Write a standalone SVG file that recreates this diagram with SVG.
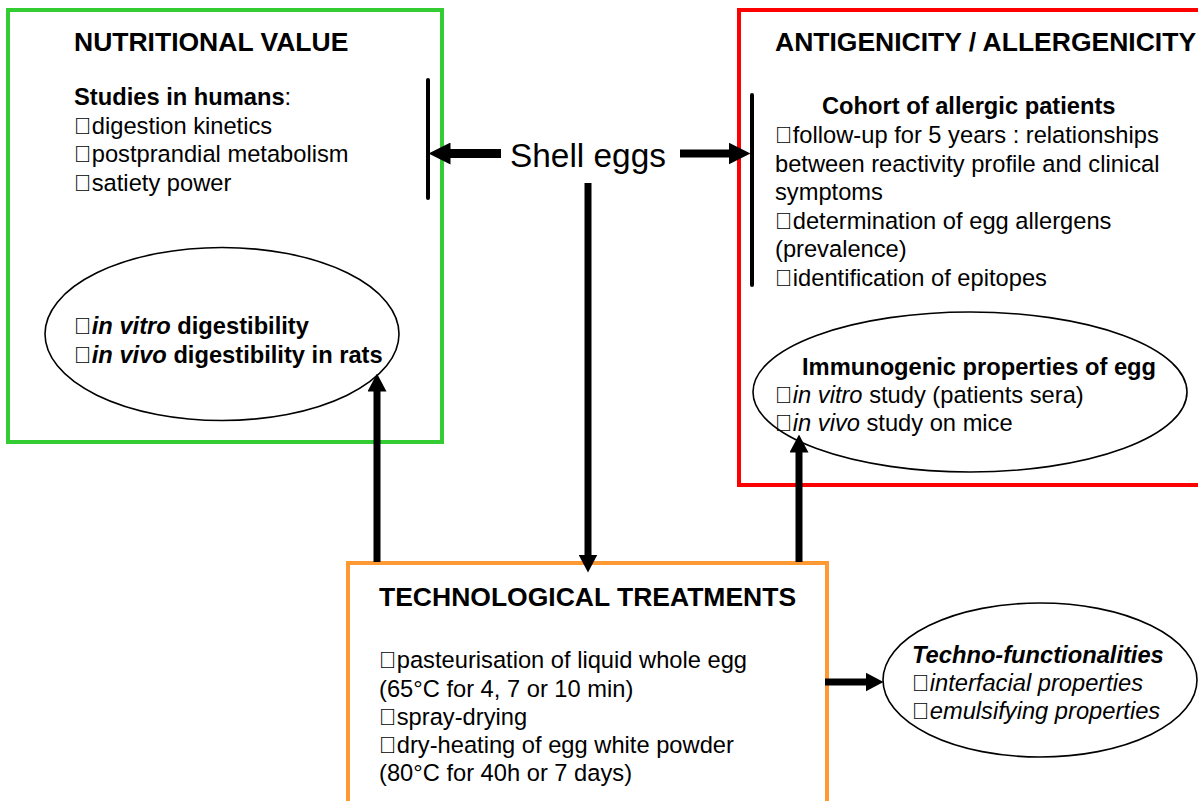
<svg xmlns="http://www.w3.org/2000/svg" width="1198" height="801" viewBox="0 0 1198 801">
<style>
text{font-family:"Liberation Sans",Arial,sans-serif;fill:#000}
.h{font-size:26.5px;font-weight:bold}
.t{font-size:23.7px}
.b{font-weight:bold}
.i{font-style:italic}
.n{font-style:normal}
.box{fill:none;stroke-width:4}
.ell{fill:#fff;stroke:#000;stroke-width:1.6}
.conn{stroke:#000;fill:none}
.bar{stroke:#000;stroke-width:4;stroke-linecap:round}
</style>
<defs>
<marker id="hl" markerUnits="userSpaceOnUse" markerWidth="22" markerHeight="22" viewBox="0 0 22 22" refX="0.5" refY="11" orient="auto"><path d="M0,0 L22,11 L0,22 z" fill="#000"/></marker>
<marker id="hs" markerUnits="userSpaceOnUse" markerWidth="18" markerHeight="19" viewBox="0 0 18 19" refX="0.5" refY="9.5" orient="auto"><path d="M0,0 L18,9.5 L0,19 z" fill="#000"/></marker>
</defs>
<rect width="1198" height="801" fill="#fff"/>

<g id="nutritional">
<rect class="box" x="8" y="10" width="434" height="432" stroke="#33cc33"/>
<text class="h" x="74" y="51">NUTRITIONAL VALUE</text>
<text class="t" x="74" y="104.5"><tspan class="b">Studies in humans</tspan>:</text>
<text class="t" x="74" y="133.5">&#xF0A7;digestion kinetics</text>
<text class="t" x="74" y="161.5">&#xF0A7;postprandial metabolism</text>
<text class="t" x="74" y="190.5">&#xF0A7;satiety power</text>
</g>
<g id="digestibility">
<ellipse class="ell" cx="222" cy="334" rx="177" ry="86.5"/>
<text class="t b" x="74" y="334">&#xF0A7;<tspan class="i">in vitro</tspan> digestibility</text>
<text class="t b" x="74" y="363">&#xF0A7;<tspan class="i">in vivo</tspan> digestibility in rats</text>
</g>

<g id="allergenicity">
<rect class="box" x="739" y="10" width="470" height="475" stroke="#ff0000"/>
<text class="h" x="775" y="51">ANTIGENICITY / ALLERGENICITY</text>
<text class="t b" x="822" y="113.5">Cohort of allergic patients</text>
<text class="t" x="775" y="142.5">&#xF0A7;follow-up for 5 years : relationships</text>
<text class="t" x="775" y="171.5">between reactivity profile and clinical</text>
<text class="t" x="775" y="200">symptoms</text>
<text class="t" x="775" y="228.5">&#xF0A7;determination of egg allergens</text>
<text class="t" x="775" y="257">(prevalence)</text>
<text class="t" x="775" y="286">&#xF0A7;identification of epitopes</text>
</g>
<g id="immunogenic">
<ellipse class="ell" cx="970" cy="392" rx="217" ry="80"/>
<text class="t b" x="802" y="374.5">Immunogenic properties of egg</text>
<text class="t" x="775" y="402.5">&#xF0A7;<tspan class="i">in vitro</tspan> study (patients sera)</text>
<text class="t" x="775" y="430.5">&#xF0A7;<tspan class="i">in vivo</tspan> study on mice</text>
</g>

<g id="shell-eggs">
<text x="510" y="167" style="font-size:33.4px">Shell eggs</text>
</g>

<g id="treatments">
<rect class="box" x="348" y="563" width="479" height="260" stroke="#ff9933"/>
<text class="h" x="379" y="606">TECHNOLOGICAL TREATMENTS</text>
<text class="t" x="379" y="668">&#xF0A7;pasteurisation of liquid whole egg</text>
<text class="t" x="379" y="696.5">(65°C for 4, 7 or 10 min)</text>
<text class="t" x="379" y="724.5">&#xF0A7;spray-drying</text>
<text class="t" x="379" y="752.5">&#xF0A7;dry-heating of egg white powder</text>
<text class="t" x="379" y="781">(80°C for 40h or 7 days)</text>
</g>

<g id="techno-functionalities">
<ellipse class="ell" cx="1040" cy="680" rx="157" ry="77"/>
<text class="t b i" x="912" y="663">Techno-functionalities</text>
<text class="t i" x="912" y="691"><tspan class="n">&#xF0A7;</tspan>interfacial properties</text>
<text class="t i" x="912" y="719"><tspan class="n">&#xF0A7;</tspan>emulsifying properties</text>
</g>

<g id="connectors">
<line class="bar" x1="428" y1="80" x2="428" y2="198"/>
<line class="bar" x1="752" y1="95" x2="752" y2="285"/>
<line class="conn" x1="501" y1="153.5" x2="450" y2="153.5" stroke-width="9" marker-end="url(#hl)"/>
<line class="conn" x1="680" y1="153.5" x2="729" y2="153.5" stroke-width="8" marker-end="url(#hl)"/>
<line class="conn" x1="588" y1="183" x2="588" y2="555" stroke-width="7" marker-end="url(#hs)"/>
<line class="conn" x1="377" y1="562" x2="377" y2="391" stroke-width="7" marker-end="url(#hs)"/>
<line class="conn" x1="799" y1="562" x2="799" y2="452" stroke-width="7" marker-end="url(#hs)"/>
<line class="conn" x1="825" y1="682" x2="866" y2="682" stroke-width="7" marker-end="url(#hs)"/>
</g>
</svg>
